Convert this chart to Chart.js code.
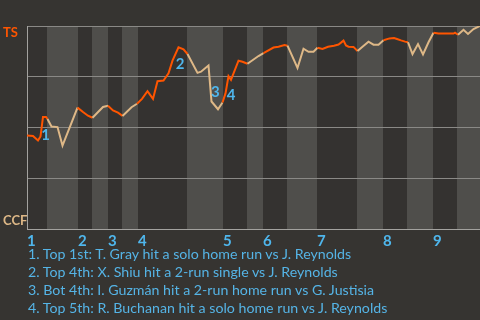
<!DOCTYPE html>
<html>
<head>
<meta charset="utf-8">
<script src="https://cdn.jsdelivr.net/npm/chart.js@4/dist/chart.umd.min.js"></script>
<style>
  html,body{margin:0;padding:0;background:#363431;width:480px;height:320px;overflow:hidden;}
  #wrap{position:absolute;left:0;top:0;width:480px;height:250px;}
  #notes{position:absolute;left:28px;top:245px;font-family:Lato,"Open Sans",sans-serif;font-size:14.2px;line-height:18px;color:#55b4e6;white-space:nowrap;}
</style>
</head>
<body>
<div id="wrap"><canvas id="c" width="480" height="250"></canvas></div>
<div id="notes"></div>
<script>
// ---- data ----
const teamTop = "TS";
const teamBottom = "CCF";
const innings = ["1","2","3","4","5","6","7","8","9"];
// half-inning boundaries on the event axis
const halfBounds = [0, 4, 10.2, 13, 16.2, 19, 22.2, 32, 39.2, 44, 47.2, 52, 58, 66, 71.2, 76, 81.2, 86, 90.6];
// event position along the game
const eventX = [0, 1.2, 2.2, 2.7, 3.2, 3.8, 4.1, 4.9, 6.1, 7.1, 10.1, 11.2, 12.2, 13.1, 15.2, 16.2, 17.2, 18.2, 19.1, 20.9,
  22.0, 23.0, 24.1, 25.2, 26.1, 27.3, 28.3, 29.1, 30.3, 31.3, 32.1, 34.1, 34.8, 36.3, 36.9, 38.2, 39.1, 39.7, 40.3, 40.8,
  42.3, 43.1, 44.1, 46.3, 47.3, 49.3, 50.3, 51.5, 52.1, 54.1, 55.3, 56.3, 57.3, 58.1, 59.1, 60.2, 61.4, 62.3, 62.8, 63.3,
  63.8, 64.3, 65.3, 66.1, 67.1, 68.3, 69.3, 70.3, 71.3, 72.5, 73.4, 74.0, 74.8, 75.6, 76.2, 77.1, 78.2, 79.2, 80.3, 81.3,
  82.3, 85.3, 85.6, 86.2, 87.3, 88.2, 89.3, 90.6];
// win probability for TS (%)
const winProb = [46.1, 45.8, 43.6, 45.6, 55.2, 55.2, 54.2, 50.5, 50.2, 41.1, 59.8, 57.6, 55.8, 54.8, 60.1, 60.7, 58.4, 57.3, 55.7, 60.0,
  61.7, 64.1, 67.9, 64.1, 72.8, 73.1, 76.7, 82.9, 89.5, 88.5, 86.2, 76.9, 77.5, 80.5, 62.8, 59.0, 62.3, 66.8, 75.3, 73.5,
  82.9, 82.4, 81.4, 85.2, 86.6, 89.4, 89.8, 90.6, 90.3, 79.3, 88.8, 87.3, 87.3, 89.3, 88.7, 89.8, 90.3, 90.9, 91.8, 92.8,
  90.4, 89.8, 89.7, 87.7, 89.8, 92.3, 90.8, 90.8, 93.0, 93.9, 94.1, 93.6, 92.9, 92.3, 92.0, 86.2, 91.1, 86.0, 92.0, 96.7,
  96.3, 96.3, 96.7, 95.7, 98.1, 96.1, 98.5, 100];
// key plays: index of the point each marker refers to
const keyPlayIndex = [4, 28, 33, 38];
const keyPlayLabels = ["1", "2", "3", "4"];
const notes = [
  "1. Top 1st: T. Gray hit a solo home run vs J. Reynolds",
  "2. Top 4th: X. Shiu hit a 2-run single vs J. Reynolds",
  "3. Bot 4th: I. Guzmán hit a 2-run home run vs G. Justisia",
  "4. Top 5th: R. Buchanan hit a solo home run vs J. Reynolds"
];

// ---- styles ----
const ORANGE = "#ff5500", TAN = "#deb887", BLUE = "#4fb6ec";
const DARK_COL = "#343230", LIGHT_COL = "#4f4e4b";
const GRID = "#8a8986", AXIS = "#a3a29f";
const FONT = "Lato, 'Open Sans', sans-serif";
const keyOffsets = [[2.5, 18.5], [1.5, 16.7], [6.8, 27], [2.5, 19]];

document.getElementById('notes').innerHTML = notes.map(n => '<div>' + n.replace(/&/g,'&amp;') + '</div>').join('');

function halfIndex(v){
  for (let i = 0; i < halfBounds.length - 1; i++) if (v >= halfBounds[i] && v < halfBounds[i+1]) return i;
  return halfBounds.length - 2;
}

const shading = {
  id: 'shading',
  beforeDraw(chart){
    const {ctx, chartArea: a, scales: {x}} = chart;
    ctx.save();
    for (let i = 0; i < halfBounds.length - 1; i++){
      const x0 = Math.round(x.getPixelForValue(halfBounds[i]));
      const x1 = Math.round(x.getPixelForValue(halfBounds[i+1]));
      ctx.fillStyle = i % 2 ? LIGHT_COL : DARK_COL;
      ctx.fillRect(x0, a.top, x1 - x0, a.bottom - a.top);
    }
    ctx.restore();
  }
};

const keyPlays = {
  id: 'keyPlays',
  afterDatasetsDraw(chart){
    const {ctx, scales: {x, y}} = chart;
    ctx.save();
    ctx.font = "bold 15px " + FONT;
    ctx.fillStyle = BLUE;
    ctx.textAlign = 'center';
    ctx.textBaseline = 'middle';
    keyPlayIndex.forEach((idx, k) => {
      const px = x.getPixelForValue(eventX[idx]) + keyOffsets[k][0];
      const py = y.getPixelForValue(winProb[idx]) + keyOffsets[k][1];
      ctx.fillText(keyPlayLabels[k], px, py);
    });
    ctx.restore();
  }
};

const inningStarts = halfBounds.filter((b, i) => i % 2 === 0 && i < halfBounds.length - 1);

new Chart(document.getElementById('c'), {
  type: 'line',
  data: {
    datasets: [{
      data: eventX.map((v, i) => ({x: v, y: winProb[i]})),
      borderWidth: 2,
      pointRadius: 0,
      tension: 0,
      borderColor: ORANGE,
      segment: {
        borderColor: ctx => halfIndex((ctx.p0.parsed.x + ctx.p1.parsed.x) / 2) % 2 === 0 ? ORANGE : TAN
      }
    }]
  },
  options: {
    responsive: false,
    animation: false,
    devicePixelRatio: 1,
    layout: {padding: {top: 26, left: 3, right: 0, bottom: 0}},
    plugins: {legend: {display: false}, tooltip: {enabled: false}},
    scales: {
      x: {
        type: 'linear', min: 0, max: 90.6,
        grid: {display: false, drawTicks: false},
        border: {display: true, color: AXIS, width: 1},
        afterBuildTicks: s => { s.ticks = inningStarts.map(v => ({value: v})); },
        afterFit: s => { s.height = 21; },
        ticks: {
          autoSkip: false, maxRotation: 0, align: 'start', padding: 3,
          color: BLUE, font: {family: FONT, size: 15, weight: 'bold'},
          callback: (v, i) => innings[i]
        }
      },
      y: {
        type: 'linear', min: 0, max: 100, position: 'left', weight: 0,
        grid: {color: GRID, drawTicks: false, lineWidth: 1},
        border: {display: true, color: AXIS},
        afterBuildTicks: s => { s.ticks = [0, 25, 50, 75, 100].map(v => ({value: v})); },
        afterFit: s => { s.width = 0; },
        ticks: {display: false}
      },
      teams: {
        type: 'linear', min: 0, max: 100, position: 'left', weight: 1,
        grid: {display: false, drawTicks: false},
        border: {display: false},
        afterBuildTicks: s => { s.ticks = [{value: 3.9}, {value: 96.5}]; },
        afterFit: s => { s.width = 24; },
        ticks: {
          crossAlign: 'far', padding: 0,
          font: {family: FONT, size: 13, weight: 'bold'},
          color: c => c.tick && c.tick.value > 50 ? ORANGE : TAN,
          callback: v => v > 50 ? teamTop : teamBottom
        }
      }
    }
  },
  plugins: [shading, keyPlays]
});
</script>
</body>
</html>
